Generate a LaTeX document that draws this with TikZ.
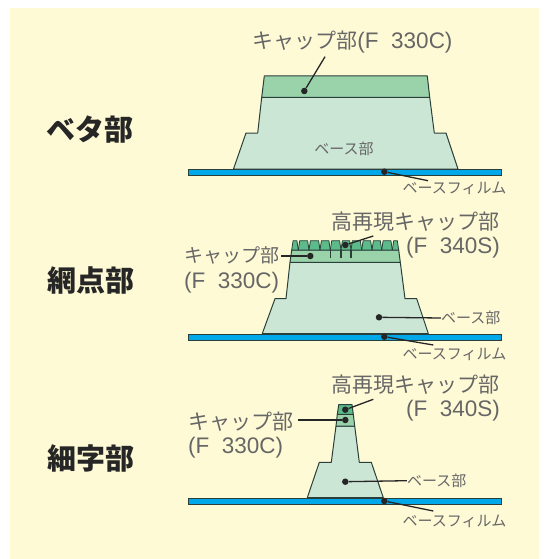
\documentclass[tikz,border=0pt]{standalone}
\usepackage{fontspec}
\setmainfont{Noto Sans CJK JP}
\newfontfamily\latinfont[WordSpace=2.0]{Liberation Sans}
\definecolor{paper}{HTML}{FFFAD6}
\definecolor{basegreen}{HTML}{CBE6D5}
\definecolor{capgreen}{HTML}{9AD2A9}
\definecolor{highgreen}{HTML}{5DBA8A}
\definecolor{filmblue}{HTML}{00A8EA}
\definecolor{edgedark}{HTML}{2A3F3A}
\definecolor{textgray}{HTML}{666666}
\newcommand{\grade}[1]{{\latinfont\fontsize{22.5}{24}\selectfont #1}}
\tikzset{
  part/.style={draw=edgedark,line width=1pt,line join=round},
  basepart/.style={part,fill=basegreen},
  cappart/.style={part,fill=capgreen},
  highpart/.style={part,fill=highgreen},
  filmpart/.style={draw=edgedark,line width=.8pt,fill=filmblue},
  dot/.style={circle,fill=black!85,inner sep=0pt,minimum size=6.5pt},
  leader/.style={draw=black!85,line width=1.3pt},
  biglabel/.style={inner sep=0pt,text=textgray,font=\fontsize{21}{24}\selectfont},
  smalllabel/.style={inner sep=0pt,text=textgray,font=\fontsize{15}{17}\selectfont},
  title/.style={inner sep=0pt,text=black!85,font=\bfseries\fontsize{29}{31}\selectfont}
}
\begin{document}
\begin{tikzpicture}[x=1pt,y=-1pt]
  \useasboundingbox (0,0) rectangle (548,559);
  \fill[paper] (10,8) rectangle (539,559);

  % titles
  \node[title] (betaTitle) at (89.5,130) {ベタ部};
  \node[title] (amiTitle) at (91,281) {網点部};
  \node[title] (hosoTitle) at (91,458) {細字部};

  % solid area
  \draw[basepart] (233.5,169) -- (246,133) -- (257.7,133) -- (261.7,97.3) -- (429.7,97.3)
    -- (434.3,133) -- (446,133) -- (458,169) -- cycle;
  \draw[cappart] (261.7,97.3) -- (264.3,76) -- (427.3,76) -- (429.7,97.3) -- cycle;
  \draw[filmpart] (188,169) rectangle (501,175);
  \node[biglabel] (capA) at (352.5,42.5) {キャップ部\grade{(F 330C)}};
  \node[smalllabel] (baseA) at (344,149) {ベース部};
  \node[smalllabel] (filmA) at (454.5,188.5) {ベースフィルム};
  \node[dot] (capDotA) at (304.3,91) {};
  \node[dot] (filmDotA) at (384.3,171.7) {};
  \coordinate (capEndA) at (325,56.7);
  \coordinate (filmEndA) at (428,180.7);
  \draw[leader] (capDotA) -- (capEndA);
  \draw[leader] (filmDotA) -- (filmEndA);

  % halftone area
  \draw[basepart] (262.3,333.5) -- (275,298.7) -- (286,298.7) -- (290,262.3) -- (400.3,262.3)
    -- (405,298.7) -- (416.7,298.7) -- (428.3,333.5) -- cycle;
  \draw[cappart] (290,262.3) -- (291.7,250) -- (398.7,250) -- (400.3,262.3) -- cycle;
  \foreach \l/\r in {291.7/298.3,298.3/309,309/320,320/330.3,330.3/341,341/351,351/361.7,
      361.7/372,372/381.7,381.7/392.3,392.3/398.7}
    \draw[highpart,line width=.8pt] (\l,250) -- (\l+1.4,240.7) -- (\r-1.4,240.7) -- (\r,250) -- cycle;
  \foreach \n in {330.3,341,351}
    \draw[part,line width=1.3pt] (\n,250) -- (\n,257.7);
  \draw[filmpart] (188,334) rectangle (501,340);
  \node[biglabel,anchor=east,align=right] (highB) at (500,235) {高再現キャップ部\\\grade{(F 340S)}};
  \node[biglabel,anchor=west,align=left,font=\fontsize{19}{24}\selectfont] (capB) at (184,270) {キャップ部\\[2.5pt]\grade{(F 330C)}};
  \node[smalllabel] (baseB) at (470.7,318) {ベース部};
  \node[smalllabel] (filmB) at (454.5,354.5) {ベースフィルム};
  \node[dot] (highDotB) at (345.3,245) {};
  \node[dot] (capDotB) at (310.3,256) {};
  \node[dot] (baseDotB) at (379,317.3) {};
  \node[dot] (filmDotB) at (384.3,336.7) {};
  \coordinate (highEndB) at (373.3,236);
  \coordinate (capEndB) at (281,256);
  \coordinate (filmEndB) at (433.3,345);
  \draw[leader] (highDotB) -- (highEndB);
  \draw[leader] (capDotB) -- (capEndB);
  \draw[leader] (baseDotB) -- (baseB.west);
  \draw[leader] (filmDotB) -- (filmEndB);

  % fine text area
  \draw[basepart] (307.3,497.7) -- (319.3,462.3) -- (331.3,462.3) -- (336,426) -- (354.7,426)
    -- (359.3,462.3) -- (371.3,462.3) -- (383.3,497.7) -- cycle;
  \draw[cappart] (336,426) -- (337.3,414.3) -- (353.3,414.3) -- (354.7,426) -- cycle;
  \draw[highpart] (337.3,414.3) -- (338.7,404.7) -- (352,404.7) -- (353.3,414.3) -- cycle;
  \draw[filmpart] (188,498.3) rectangle (501,504.3);
  \node[biglabel,anchor=east,align=right] (highC) at (500,398.2) {高再現キャップ部\\\grade{(F 340S)}};
  \node[biglabel,anchor=west,align=left] (capC) at (188,435.3) {キャップ部\\\grade{(F 330C)}};
  \node[smalllabel] (baseC) at (436.7,480.7) {ベース部};
  \node[smalllabel] (filmC) at (454.5,521) {ベースフィルム};
  \node[dot] (highDotC) at (345.3,409.7) {};
  \node[dot] (capDotC) at (345.3,420) {};
  \node[dot] (baseDotC) at (345.3,481.7) {};
  \node[dot] (filmDotC) at (384.3,501) {};
  \coordinate (highEndC) at (373.3,399.3);
  \coordinate (capEndC) at (297.7,420);
  \coordinate (filmEndC) at (433.3,511);
  \draw[leader] (highDotC) -- (highEndC);
  \draw[leader] (capDotC) -- (capEndC);
  \draw[leader] (baseDotC) -- (baseC.west);
  \draw[leader] (filmDotC) -- (filmEndC);
\end{tikzpicture}
\end{document}
